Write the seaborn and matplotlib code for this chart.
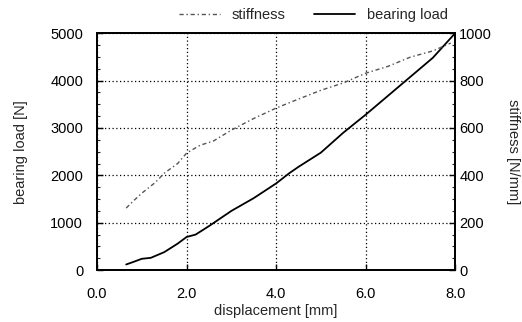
import matplotlib.pyplot as plt
import pandas as pd
import seaborn as sns
from matplotlib.ticker import MultipleLocator

# bearing load curve
load_disp = [0.65, 0.8, 1.0, 1.2, 1.5, 1.8, 2.0, 2.2, 2.5, 3.0, 3.5, 4.0,
             4.3, 4.5, 5.0, 5.5, 6.0, 6.5, 6.9, 7.0, 7.5, 8.0]
load_n = [120, 170, 240, 260, 380, 560, 700, 750, 930, 1250, 1520, 1830,
          2050, 2180, 2480, 2900, 3280, 3680, 4000, 4080, 4480, 5000]

# stiffness curve
stiff_disp = [0.65, 0.8, 1.0, 1.3, 1.5, 1.8, 2.0, 2.3, 2.6, 3.0, 3.5, 4.0,
              4.5, 5.0, 5.5, 6.0, 6.5, 7.0, 7.5, 7.9]
stiff_nmm = [262, 290, 325, 370, 409, 450, 494, 527, 545, 591, 640, 684,
             722, 759, 790, 831, 860, 899, 925, 958]

x_ticks = [0, 2, 4, 6, 8]
x_labels = ["0.0", "2.0", "4.0", "6.0", "8.0"]

sns.set_style("ticks")
plt.rcParams['font.family'] = ['Liberation Sans', 'DejaVu Sans']

fig = plt.figure(figsize=(5.22, 3.22), dpi=100)
ax = fig.add_axes([0.186, 0.161, 0.686, 0.736])
ax2 = ax.twinx()

df_load = pd.DataFrame({'displacement': load_disp, 'load': load_n})
df_stiff = pd.DataFrame({'displacement': stiff_disp, 'stiffness': stiff_nmm})

sns.lineplot(data=df_load, x='displacement', y='load', ax=ax, color='black',
             linewidth=1.3, label='bearing load', legend=False)
sns.lineplot(data=df_stiff, x='displacement', y='stiffness', ax=ax2, color='#555555',
             linewidth=1.0, linestyle=(0, (3, 2, 1, 2)), label='stiffness', legend=False)

ax.set_xlim(0, 8)
ax.set_ylim(0, 5000)
ax2.set_ylim(0, 1000)
ax.set_xticks(x_ticks)
ax.set_xticklabels(x_labels)
ax.set_yticks([0, 1000, 2000, 3000, 4000, 5000])
ax2.set_yticks([0, 200, 400, 600, 800, 1000])
ax.yaxis.set_minor_locator(MultipleLocator(250))
ax2.yaxis.set_minor_locator(MultipleLocator(50))

ax.grid(True, which='major', color='black', linestyle=(0, (1, 2)), linewidth=0.9)
for a in (ax, ax2):
    a.tick_params(direction='in', length=4, width=1, labelsize=10.5, colors='black')
    a.tick_params(which='minor', direction='in', length=2.5, width=0.8)
    for s in a.spines.values():
        s.set_linewidth(1.3)
        s.set_color('black')
ax.tick_params(axis='x', pad=12)
ax.tick_params(axis='y', pad=10)
ax2.tick_params(axis='y', pad=3)

ax.set_xlabel('displacement [mm]', fontsize=10.5, labelpad=2)
ax.set_ylabel('bearing load [N]', fontsize=10.5, labelpad=16)
ax2.set_ylabel('stiffness [N/mm]', fontsize=10.5, rotation=270, labelpad=20)

h1, l1 = ax2.get_legend_handles_labels()
h2, l2 = ax.get_legend_handles_labels()
fig.legend(h1 + h2, l1 + l2, loc='upper center', bbox_to_anchor=(0.6, 1.015), ncol=2,
           frameon=False, fontsize=10.5, handlelength=2.8, columnspacing=2.0)

fig.savefig('out.png', dpi=100)
